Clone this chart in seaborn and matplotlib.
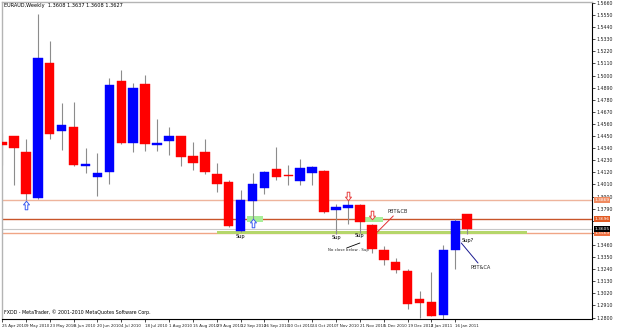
import numpy as np
import pandas as pd
import matplotlib
matplotlib.use("Agg")
import matplotlib.pyplot as plt
from matplotlib.path import Path
import seaborn as sns

# ---------------- data (weekly EURAUD candles) ----------------
week_start = "2010-04-25"
opens = [1.4396, 1.4451, 1.4305, 1.3887, 1.5114, 1.4496, 1.4533, 1.4178, 1.4078, 1.4124,
         1.4951, 1.4387, 1.4923, 1.4369, 1.4405, 1.4451, 1.4269, 1.4305, 1.4105, 1.4033,
         1.3587, 1.3860, 1.3978, 1.4151, 1.4096, 1.4042, 1.4114, 1.4133, 1.3778, 1.3796,
         1.3824, 1.3642, 1.3415, 1.3305, 1.3224, 1.2969, 1.2942, 1.2824, 1.3415, 1.3742]
highs = [1.4478, 1.4455, 1.4424, 1.5560, 1.5314, 1.4751, 1.4760, 1.4342, 1.4296, 1.4978,
         1.5051, 1.4933, 1.5005, 1.4605, 1.4533, 1.4455, 1.4396, 1.4424, 1.4205, 1.4051,
         1.3960, 1.4114, 1.4130, 1.4351, 1.4187, 1.4242, 1.4175, 1.4140, 1.3833, 1.3887,
         1.3830, 1.3648, 1.3451, 1.3342, 1.3242, 1.3042, 1.3215, 1.3460, 1.3696, 1.3745]
lows = [1.4187, 1.4005, 1.3869, 1.3880, 1.4424, 1.4324, 1.4180, 1.4114, 1.3905, 1.4014,
        1.4380, 1.4305, 1.4314, 1.4314, 1.4278, 1.4178, 1.4142, 1.4105, 1.3942, 1.3625,
        1.3580, 1.3687, 1.3924, 1.4051, 1.4005, 1.4005, 1.4005, 1.3755, 1.3560, 1.3651,
        1.3569, 1.3387, 1.3278, 1.3205, 1.2878, 1.2796, 1.2810, 1.2787, 1.3242, 1.3560]
closes = [1.4369, 1.4342, 1.3924, 1.5160, 1.4469, 1.4551, 1.4187, 1.4196, 1.4114, 1.4914,
          1.4387, 1.4887, 1.4378, 1.4387, 1.4451, 1.4260, 1.4205, 1.4124, 1.4014, 1.3633,
          1.3869, 1.4014, 1.4124, 1.4078, 1.4087, 1.4160, 1.4169, 1.3760, 1.3805, 1.3824,
          1.3669, 1.3424, 1.3324, 1.3233, 1.2924, 1.2933, 1.2815, 1.3415, 1.3678, 1.3605]

price_ticks = ["1.5660", "1.5550", "1.5440", "1.5330", "1.5220", "1.5110", "1.5000",
               "1.4890", "1.4780", "1.4670", "1.4560", "1.4450", "1.4340", "1.4230",
               "1.4120", "1.4010", "1.3900", "1.3790", "1.3680", "1.3570", "1.3460",
               "1.3350", "1.3240", "1.3130", "1.3020", "1.2910", "1.2800"]
hidden_ticks = ["1.3680", "1.3570"]   # covered by the highlighted level labels

# horizontal levels
level_hi = 1.3869
level_mid = 1.3696
bid = 1.3605
level_lo = 1.3569

title_text = "EURAUD,Weekly  1.3608 1.3637 1.3608 1.3627"
footer_text = "FXDD - MetaTrader, \u00a9 2001-2010 MetaQuotes Software Corp."

# annotations (candle index, price)
up_arrow_x = [2, 21]
up_arrow_y = [1.3824, 1.3660]
down_arrow_x = [29, 31]
down_arrow_y = [1.3905, 1.3733]
sup_labels = [(20, 1.3533, "Sup"), (28, 1.3524, "Sup"), (30, 1.3542, "Sup"), (39, 1.3505, "Sup?")]

# ---------------- frame ----------------
df = pd.DataFrame({"date": pd.date_range(week_start, periods=len(opens), freq="7D"),
                   "open": opens, "high": highs, "low": lows, "close": closes})
df["i"] = np.arange(len(df))
df["bull"] = df["close"] >= df["open"]

sns.set_style("white")
plt.rcParams["font.family"] = ["DejaVu Sans"]

W, H = 625, 334
fig = plt.figure(figsize=(W / 100, H / 100), dpi=100)
fig.patch.set_facecolor("white")
ax = fig.add_axes([2 / W, 15 / H, 590 / W, 317 / H])
ax.set_facecolor("white")

step = 11.95
ax.set_xlim((2 - 1) / step, (592 - 1) / step)
ax.set_ylim(1.2787, 1.5669)

# horizontal lines
ax.axhline(level_hi, color="#EEB49C", lw=1.0, zorder=1)
ax.axhline(level_mid, color="#C8552A", lw=1.0, zorder=1)
ax.axhline(bid, color="#C8C8C8", lw=0.8, zorder=1)
ax.axhline(level_lo, color="#F0A585", lw=1.0, zorder=1)
ax.fill_between([18.0, 44.0], 1.3557, 1.3583, color="#B5D66A", lw=0, zorder=1.5)

# small green zones
ax.fill_between([20.5, 21.9], 1.3672, 1.3720, color="#A8EE98", lw=0, zorder=1.5)
ax.fill_between([30.45, 31.95], 1.3668, 1.3712, color="#A8EE98", lw=0, zorder=1.5)

# candles
colors = np.where(df["bull"], "#0000FF", "#FF0000")
ax.vlines(df["i"], df["low"], df["high"], color="#8C8C8C", lw=0.8, zorder=2)
heights = (df["close"] - df["open"]).to_numpy()
heights = np.where(np.abs(heights) < 0.0012, np.sign(heights + 1e-9) * 0.0012, heights)
ax.bar(df["i"], heights, bottom=df["open"], width=0.8, color=colors,
       edgecolor=colors, lw=0.3, zorder=3)

# hollow arrow markers
up_verts = [(0, 1), (0.7, 0.15), (0.3, 0.15), (0.3, -1), (-0.3, -1), (-0.3, 0.15),
            (-0.7, 0.15), (0, 1)]
up_path = Path(up_verts, [Path.MOVETO] + [Path.LINETO] * 6 + [Path.CLOSEPOLY])
down_path = Path([(x, -y) for x, y in up_verts], up_path.codes)
sns.scatterplot(x=up_arrow_x, y=up_arrow_y, marker=up_path, s=38, color="white",
                edgecolor="#3C5CF0", linewidth=0.7, ax=ax, zorder=4, legend=False)
sns.scatterplot(x=down_arrow_x, y=down_arrow_y, marker=down_path, s=38, color="white",
                edgecolor="#E84040", linewidth=0.7, ax=ax, zorder=4, legend=False)

for i, p, s in sup_labels:
    ax.text(i, p, s, fontsize=3.6, ha="center", va="center", color="black", zorder=4)

ax.text(29.0, 1.3415, "No close below . Sup", fontsize=2.8, ha="center", va="center", zorder=4)
ax.plot([28.9, 30.0], [1.3433, 1.3478], color="black", lw=0.6, zorder=4)

ax.text(32.3, 1.3760, "PBT&CB", fontsize=3.6, ha="left", va="center", zorder=4)
ax.plot([31.46, 32.8], [1.3578, 1.3724], color="#E03030", lw=0.7, zorder=4)

ax.text(39.25, 1.3251, "PBT&CA", fontsize=3.6, ha="left", va="center", zorder=4)
ax.plot([38.5, 39.9], [1.3478, 1.3296], color="#1A1A90", lw=0.7, zorder=4)

# axes styling
ax.yaxis.tick_right()
ax.set_yticks([float(t) for t in price_ticks])
ax.set_yticklabels(["" if t in hidden_ticks else t for t in price_ticks])
ax.tick_params(axis="y", right=True, length=2, width=0.5, pad=1, labelsize=3.4,
               labelcolor="#202020", color="black")

tick_idx = df["i"][::2].to_numpy()
tick_lbl = [f"{d.day} {d:%b %Y}" for d in df["date"][::2]]
ax.set_xticks(tick_idx)
ax.set_xticklabels(tick_lbl, ha="left")
ax.tick_params(axis="x", bottom=True, length=2, width=0.5, pad=1.5, labelsize=2.9,
               labelcolor="#202020", color="black")
ax.set_xlabel("")
ax.set_ylabel("")

for side in ["right", "bottom"]:
    ax.spines[side].set_color("black")
    ax.spines[side].set_linewidth(0.8)
for side in ["left", "top"]:
    ax.spines[side].set_color("#B4B4B4")
    ax.spines[side].set_linewidth(1.0)

# highlighted price labels on the right scale
trans = ax.get_yaxis_transform()
for p, fc in [(level_hi, "#F08A60"), (level_mid, "#E25A22"), (level_lo, "#F07040"), (bid, "#000000")]:
    ax.text(1.004, p, f"{p:.4f}", transform=trans, fontsize=3.2, color="white",
            ha="left", va="center", clip_on=False, zorder=6,
            bbox=dict(boxstyle="square,pad=0.12", fc=fc, ec="none"))

fig.text(4 / W, 1 - 6 / H, title_text, fontsize=3.6, ha="left", va="center", color="black")
fig.text(4 / W, 1 - 312 / H, footer_text, fontsize=3.4, ha="left", va="center", color="black")

fig.savefig("out.png", dpi=100, facecolor="white")
